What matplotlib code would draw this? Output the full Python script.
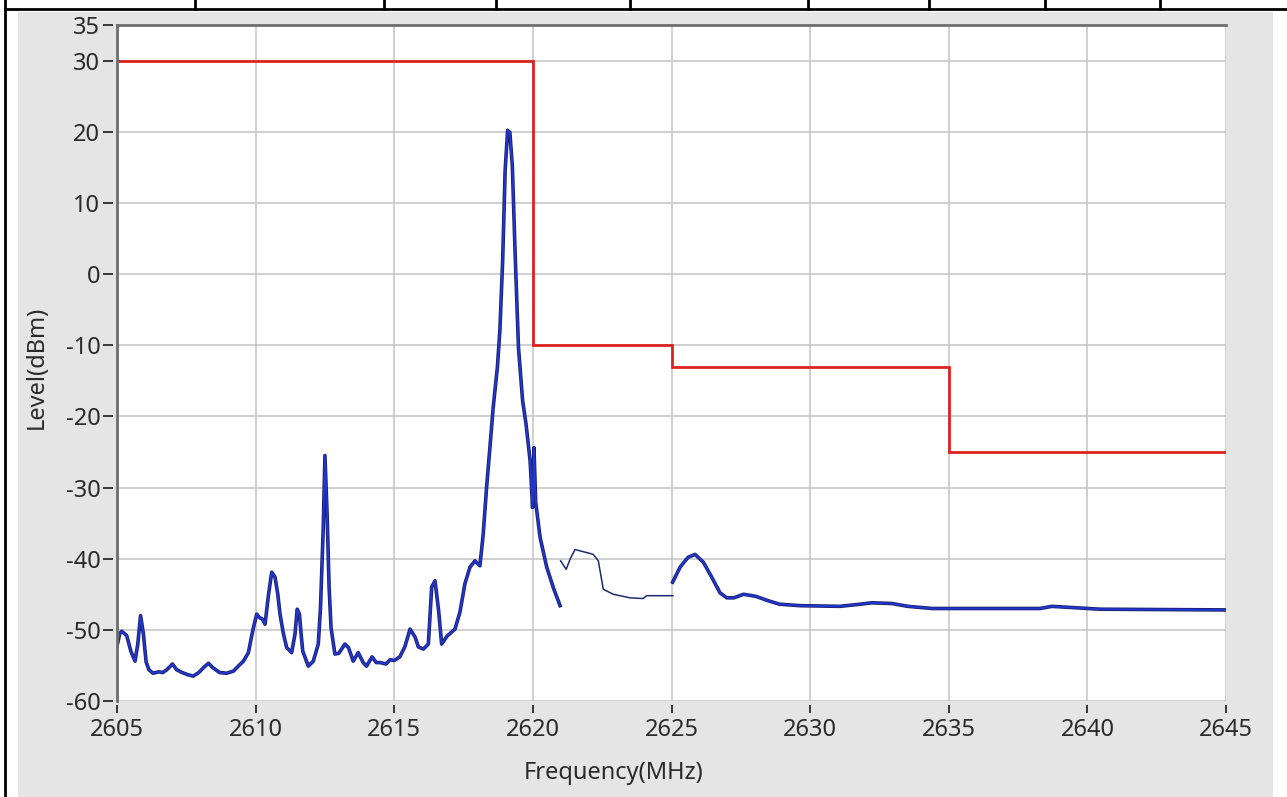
import matplotlib
matplotlib.use("Agg")
import matplotlib.pyplot as plt
import matplotlib.patheffects as pe
from matplotlib.lines import Line2D
from matplotlib.patches import Rectangle

plt.rcParams['font.family'] = ['Noto Sans', 'DejaVu Sans']
plt.rcParams['axes.unicode_minus'] = False

# ---- data ----
# Limit mask (step line)
mask_edges = [2605, 2620, 2625, 2635, 2645]
mask_levels = [30, -10, -13, -25]

# Measured spectrum, segment 1 (2605 - 2621 MHz)
freq1 = [2605.00, 2605.10, 2605.17, 2605.35, 2605.50, 2605.65, 2605.75, 2605.85, 2605.95, 2606.05,
         2606.15, 2606.30, 2606.50, 2606.65, 2606.80, 2607.00, 2607.15, 2607.35, 2607.55, 2607.75,
         2607.95, 2608.15, 2608.30, 2608.45, 2608.70, 2608.95, 2609.20, 2609.40, 2609.56, 2609.74,
         2609.85, 2609.92, 2610.04, 2610.15, 2610.25, 2610.34, 2610.46, 2610.58, 2610.70, 2610.80,
         2610.88, 2611.00, 2611.12, 2611.30, 2611.42, 2611.50, 2611.58, 2611.65, 2611.70, 2611.90,
         2612.08, 2612.26, 2612.34, 2612.44, 2612.50, 2612.58, 2612.65, 2612.72, 2612.86, 2613.00,
         2613.22, 2613.35, 2613.52, 2613.70, 2613.88, 2614.00, 2614.20, 2614.35, 2614.49, 2614.70,
         2614.85, 2615.00, 2615.20, 2615.38, 2615.57, 2615.75, 2615.87, 2616.05, 2616.23, 2616.35,
         2616.47, 2616.60, 2616.71, 2616.90, 2617.19, 2617.37, 2617.55, 2617.73, 2617.91, 2618.09,
         2618.21, 2618.33, 2618.45, 2618.57, 2618.72, 2618.81, 2618.91, 2619.00, 2619.09, 2619.17,
         2619.26, 2619.36, 2619.48, 2619.63, 2619.75, 2619.90, 2619.99, 2620.04, 2620.10, 2620.26,
         2620.50, 2620.74, 2620.98]
level1 = [-52.3, -50.5, -50.2, -50.8, -53.0, -54.4, -52.0, -48.0, -50.5, -54.5,
          -55.6, -56.1, -55.9, -56.0, -55.6, -54.8, -55.6, -56.0, -56.3, -56.5,
          -56.0, -55.2, -54.7, -55.3, -56.0, -56.1, -55.8, -55.0, -54.4, -53.2,
          -51.0, -49.7, -47.8, -48.3, -48.5, -49.2, -45.2, -41.9, -42.6, -45.0,
          -47.8, -50.5, -52.5, -53.2, -50.6, -47.1, -47.8, -51.0, -53.0, -55.1,
          -54.4, -52.0, -46.9, -35.6, -25.5, -34.0, -44.0, -49.7, -53.4, -53.3,
          -52.0, -52.5, -54.4, -53.2, -54.6, -55.1, -53.8, -54.6, -54.6, -54.8,
          -54.2, -54.3, -53.8, -52.4, -49.9, -51.0, -52.4, -52.7, -52.0, -44.0,
          -43.1, -47.3, -52.0, -50.9, -49.9, -47.5, -43.5, -41.2, -40.3, -41.0,
          -36.5, -30.0, -24.4, -18.7, -13.1, -7.9, 1.9, 14.6, 20.2, 19.9,
          15.1, 2.9, -10.3, -17.8, -21.0, -26.2, -32.8, -24.4, -32.0, -37.0,
          -41.2, -44.1, -46.6]

# Segment 2 (thin trace, 2621 - 2625 MHz)
freq2 = [2621.00, 2621.20, 2621.35, 2621.52, 2621.70, 2622.00, 2622.18, 2622.36, 2622.54, 2622.90,
         2623.50, 2623.98, 2624.10, 2625.05]
level2 = [-40.3, -41.5, -40.0, -38.7, -38.9, -39.2, -39.4, -40.3, -44.3, -45.0,
          -45.5, -45.6, -45.2, -45.2]

# Segment 3 (2625 - 2645 MHz)
freq3 = [2625.04, 2625.31, 2625.45, 2625.60, 2625.85, 2626.15, 2626.45, 2626.75, 2626.99, 2627.25,
         2627.60, 2628.05, 2628.48, 2628.90, 2629.63, 2631.07, 2631.80, 2632.23, 2632.95, 2633.53,
         2634.40, 2638.29, 2638.72, 2639.60, 2640.46, 2645.00]
level3 = [-43.3, -41.2, -40.5, -39.8, -39.4, -40.5, -42.6, -44.8, -45.5, -45.5,
          -45.0, -45.3, -45.9, -46.4, -46.6, -46.7, -46.4, -46.2, -46.3, -46.7,
          -47.0, -47.0, -46.7, -46.9, -47.1, -47.2]

x_ticks = [2605, 2610, 2615, 2620, 2625, 2630, 2635, 2640, 2645]
y_ticks = [-60, -50, -40, -30, -20, -10, 0, 10, 20, 30, 35]

# ---- figure ----
W, H = 1287, 797
fig = plt.figure(figsize=(W / 100, H / 100), dpi=100, facecolor='white')

# gray panel background
fig.add_artist(Rectangle((18 / W, 0), (1273 - 18) / W, 1 - 12 / H,
                         transform=fig.transFigure, facecolor='#e5e5e5',
                         edgecolor='none', zorder=-5))
# black table frame lines
fig.add_artist(Line2D([5 / W, 5 / W], [0, 1], color='black', lw=2))
fig.add_artist(Line2D([5 / W, 1], [1 - 8.5 / H, 1 - 8.5 / H], color='black', lw=2))
for xd in [195, 384, 496, 630, 808, 929, 1045, 1160]:
    fig.add_artist(Line2D([xd / W, xd / W], [1 - 8.5 / H, 1], color='black', lw=2))

left, right, top, bottom = 117, 1226, 25, 701
ax = fig.add_axes([left / W, 1 - bottom / H, (right - left) / W, (bottom - top) / H])
ax.set_facecolor('white')

ax.set_xlim(2605, 2645)
ax.set_ylim(-60, 35)
ax.set_xticks(x_ticks)
ax.set_yticks(y_ticks)
ax.grid(True, color='#c4c4c4', lw=1.1)
ax.set_axisbelow(True)

for s in ['top', 'right']:
    ax.spines[s].set_visible(False)
ax.spines['left'].set_position(('outward', 3))
ax.spines['bottom'].set_position(('outward', 3))
ax.spines['left'].set_visible(False)
ax.spines['bottom'].set_visible(False)

ax.tick_params(axis='y', direction='out', length=7, width=1.3, pad=2,
               labelsize=17, colors='#2a2a2a')
ax.tick_params(axis='x', direction='out', length=6, width=1.3, pad=3,
               labelsize=17, colors='#2a2a2a')

# plot frame (left and top inset border)
ax.plot([0, 0], [0, 1], transform=ax.transAxes, color='#6e6e6e', lw=2, clip_on=False, zorder=4)
ax.plot([0, 1], [1, 1], transform=ax.transAxes, color='#6e6e6e', lw=2, clip_on=False, zorder=4)

# limit mask
ax.stairs(mask_levels, mask_edges, baseline=None, color='#dd2222', lw=2, zorder=3)

# spectrum
outline = [pe.Stroke(linewidth=2.6, foreground='#18206a'), pe.Normal()]
ax.plot(freq1, level1, color='#2236d0', lw=1.4, zorder=2, path_effects=outline)
ax.plot(freq2, level2, color='#1c2a70', lw=1.1, zorder=2)
ax.plot(freq3, level3, color='#2236d0', lw=1.4, zorder=2, path_effects=outline)

fig.text(614 / W, 1 - 773 / H, 'Frequency(MHz)', ha='center', va='center',
         fontsize=17, color='#2a2a2a')
fig.text(37 / W, 1 - 367 / H, 'Level(dBm)', ha='center', va='center', rotation=90,
         fontsize=17, color='#2a2a2a')

fig.savefig('out.png', dpi=100, facecolor='white')
